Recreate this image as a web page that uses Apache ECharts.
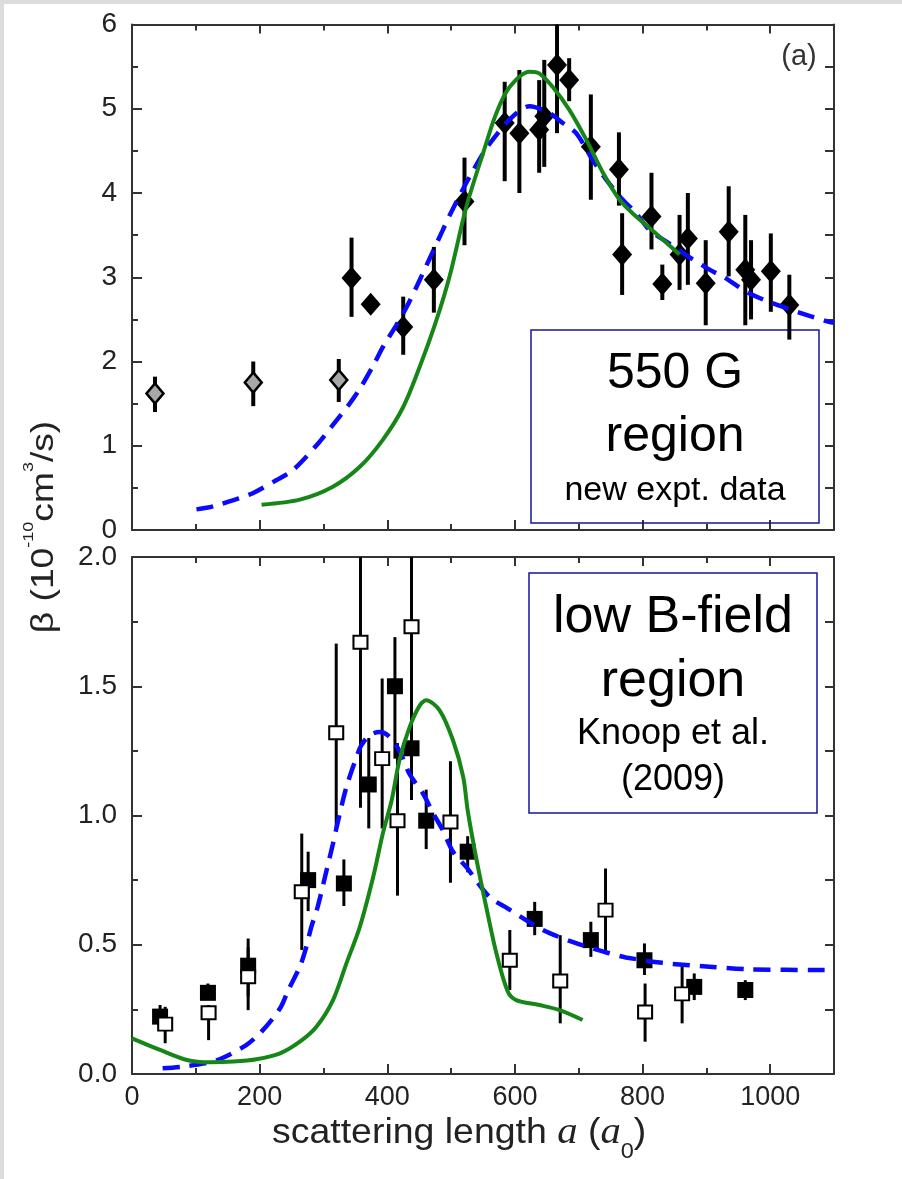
<!DOCTYPE html>
<html>
<head>
  <meta charset="utf-8" />
  <title>beta vs scattering length</title>
  <style>
    html, body { margin: 0; padding: 0; background: #fff; }
    #chart { width: 902px; height: 1179px; }
  </style>
  <script src="https://cdn.jsdelivr.net/npm/echarts@6/dist/echarts.min.js"></script>
</head>
<body>
<div id="chart"></div>
<script>
  // axis ranges and tick steps
  const xRange = [0, 1100];
  const topYRange = [0, 6];
  const lowYRange = [0, 2];

  // 550 G region, [a, beta, errLow, errHigh]
  const topGray = [
    [36, 1.62, 1.40, 1.82],
    [190, 1.75, 1.47, 2.00],
    [324, 1.78, 1.52, 2.03]
  ];
  const topBlack = [
    [344, 2.99, 2.53, 3.47], [374, 2.68, 2.62, 2.74], [425, 2.41, 2.08, 2.77],
    [473, 2.97, 2.58, 3.36], [521, 3.90, 3.38, 4.42], [584, 4.83, 4.14, 5.32],
    [607, 4.71, 4.00, 5.46], [638, 4.75, 4.24, 5.34], [646, 4.91, 4.31, 5.58],
    [666, 5.52, 4.71, 6.00], [685, 5.34, 5.09, 5.60], [719, 4.55, 3.92, 5.17],
    [763, 4.28, 3.85, 4.72], [768, 3.27, 2.79, 3.76], [814, 3.72, 3.33, 4.24],
    [831, 2.92, 2.73, 3.15], [858, 3.27, 2.85, 3.74], [871, 3.46, 2.91, 4.00],
    [899, 2.93, 2.43, 3.44], [935, 3.54, 3.01, 4.08], [961, 3.09, 2.43, 3.74],
    [970, 2.97, 2.50, 3.44], [1001, 3.07, 2.59, 3.52], [1030, 2.67, 2.26, 3.03]
  ];
  const topDashed = [
    [101, 0.245], [127, 0.28], [169, 0.38], [190, 0.44], [226, 0.59], [252, 0.71],
    [292, 1.03], [313, 1.23], [341, 1.50], [359, 1.70], [380, 1.98], [393, 2.17],
    [414, 2.43], [432, 2.67], [451, 2.97], [487, 3.56], [498, 3.74], [521, 4.08],
    [550, 4.47], [565, 4.63], [594, 4.89], [623, 5.03], [654, 4.95], [675, 4.83],
    [696, 4.71], [722, 4.39], [743, 4.16], [769, 3.92], [790, 3.76], [811, 3.56],
    [842, 3.40], [863, 3.29], [905, 3.09], [930, 2.99], [967, 2.81], [1019, 2.65],
    [1092, 2.47], [1100, 2.46]
  ];
  const topSolid = [
    [203, 0.30], [263, 0.36], [314, 0.51], [357, 0.75], [393, 1.07], [425, 1.46],
    [451, 1.94], [477, 2.49], [498, 3.02], [524, 3.84], [550, 4.47], [571, 4.95],
    [592, 5.26], [623, 5.44], [638, 5.42], [659, 5.26], [685, 4.99], [712, 4.63],
    [738, 4.24], [764, 3.92], [790, 3.72], [821, 3.52], [858, 3.27]
  ];

  // low B-field region (Knoop et al. 2009), [a, beta, errLow, errHigh]
  const lowOpen = [
    [52, 0.193, 0.119, 0.26], [120, 0.237, 0.131, 0.267], [182, 0.376, 0.247, 0.49],
    [266, 0.705, 0.48, 0.93], [320, 1.32, 0.95, 1.665], [358, 1.67, 1.03, 2.3],
    [392, 1.22, 0.95, 1.53], [416, 0.98, 0.69, 1.28], [438, 1.73, 1.06, 2.3],
    [499, 0.975, 0.74, 1.21], [592, 0.44, 0.325, 0.557], [671, 0.36, 0.196, 0.537],
    [742, 0.634, 0.467, 0.795], [804, 0.24, 0.125, 0.35], [862, 0.31, 0.196, 0.428]
  ];
  const lowFilled = [
    [44, 0.222, 0.183, 0.267], [119, 0.314, 0.286, 0.35], [182, 0.419, 0.30, 0.524],
    [276, 0.75, 0.63, 0.86], [332, 0.737, 0.65, 0.83], [371, 1.12, 0.95, 1.30],
    [412, 1.50, 1.22, 1.69], [438, 1.26, 1.07, 1.40], [461, 0.98, 0.87, 1.10],
    [526, 0.86, 0.78, 0.92], [631, 0.60, 0.537, 0.666], [719, 0.518, 0.453, 0.589],
    [803, 0.44, 0.383, 0.505], [881, 0.337, 0.286, 0.389], [961, 0.325, 0.286, 0.363]
  ];
  const lowDashed = [
    [48, 0.022], [78, 0.028], [114, 0.041], [140, 0.06], [179, 0.112], [203, 0.164],
    [232, 0.254], [245, 0.325], [263, 0.415], [271, 0.473], [281, 0.569], [291, 0.647],
    [305, 0.789], [315, 0.892], [323, 0.98], [336, 1.11], [352, 1.227], [359, 1.27],
    [372, 1.31], [388, 1.323], [401, 1.31], [419, 1.25], [435, 1.16], [456, 1.085],
    [472, 1.008], [487, 0.943], [503, 0.86], [524, 0.80], [560, 0.685], [589, 0.64],
    [644, 0.557], [690, 0.511], [722, 0.486], [748, 0.467], [774, 0.451], [831, 0.43],
    [905, 0.415], [967, 0.405], [1100, 0.402]
  ];
  const lowSolid = [
    [0, 0.138], [44, 0.093], [86, 0.054], [122, 0.045], [159, 0.048], [195, 0.057],
    [232, 0.08], [263, 0.125], [289, 0.183], [315, 0.286], [336, 0.428], [357, 0.569],
    [378, 0.763], [393, 0.93], [407, 1.06], [419, 1.214], [435, 1.342], [451, 1.426],
    [461, 1.446], [482, 1.407], [503, 1.291], [519, 1.149], [526, 1.02], [539, 0.84],
    [555, 0.647], [571, 0.467], [589, 0.318], [602, 0.286], [638, 0.267], [670, 0.247],
    [706, 0.209]
  ];

  const axisColor = '#333';
  const blue = '#0a0aff';
  const green = '#168616';
  const sans = '"Liberation Sans", Arial, sans-serif';

  function tick(len) {
    return { show: true, inside: true, length: len, lineStyle: { color: axisColor, width: 2 } };
  }

  // each grid gets 4 x axes: bottom long/short ticks, top long/short ticks
  function xAxesFor(grid, labels) {
    const base = {
      gridIndex: grid, type: 'value', min: xRange[0], max: xRange[1],
      splitLine: { show: false }, axisLabel: { show: false },
      axisLine: { show: true, onZero: false, lineStyle: { color: axisColor, width: 2 } }
    };
    const bottom = Object.assign({}, base, { position: 'bottom', interval: 200, axisTick: tick(10) });
    if (labels) {
      bottom.axisLabel = {
        show: true, margin: 10, color: '#222', fontSize: 27, fontFamily: sans,
        formatter: v => (v % 200 === 0 ? String(v) : '')
      };
    }
    return [
      bottom,
      Object.assign({}, base, { position: 'bottom', interval: 100, axisLine: { show: false, onZero: false }, axisTick: tick(6) }),
      Object.assign({}, base, { position: 'top', interval: 200, axisTick: tick(9) }),
      Object.assign({}, base, { position: 'top', interval: 100, axisLine: { show: false, onZero: false }, axisTick: tick(6) })
    ];
  }

  function yAxesFor(grid, range, step, rightStep, fmt) {
    const line = { show: true, onZero: false, lineStyle: { color: axisColor, width: 2 } };
    return [
      {
        gridIndex: grid, type: 'value', position: 'left', min: range[0], max: range[1], interval: step,
        splitLine: { show: false }, axisLine: line, axisTick: tick(10),
        minorTick: { show: true, splitNumber: 2, length: 6, lineStyle: { color: axisColor, width: 2 } },
        axisLabel: { margin: 15, color: '#222', fontSize: 28, fontFamily: sans, formatter: fmt }
      },
      {
        gridIndex: grid, type: 'value', position: 'right', min: range[0], max: range[1], interval: rightStep,
        splitLine: { show: false }, axisLine: line, axisTick: tick(9), axisLabel: { show: false }
      }
    ];
  }

  function errorBars(points, xi, yi, width) {
    return {
      type: 'custom', xAxisIndex: xi, yAxisIndex: yi, z: 3, silent: true,
      data: points.map(p => [p[0], p[2], p[3]]),
      encode: { x: 0, y: [1, 2] },
      renderItem: (params, api) => {
        const cs = params.coordSys;
        const clampY = y => Math.max(cs.y, Math.min(cs.y + cs.height, y));
        const a = api.coord([api.value(0), api.value(1)]);
        const b = api.coord([api.value(0), api.value(2)]);
        return {
          type: 'line',
          shape: { x1: a[0], y1: clampY(a[1]), x2: b[0], y2: clampY(b[1]) },
          style: { stroke: '#000', lineWidth: width }
        };
      }
    };
  }

  function markers(points, xi, yi, symbol, size, itemStyle, z) {
    return {
      type: 'scatter', xAxisIndex: xi, yAxisIndex: yi, z: z, silent: true,
      symbol: symbol, symbolSize: size, itemStyle: Object.assign({ opacity: 1 }, itemStyle),
      data: points.map(p => [p[0], p[1]])
    };
  }

  function curve(points, xi, yi, color, dashed) {
    return {
      type: 'line', xAxisIndex: xi, yAxisIndex: yi, z: 6, silent: true,
      data: points, symbol: 'none', smooth: 0.3,
      lineStyle: { color: color, width: dashed ? 4.5 : 4, type: dashed ? [17, 10] : 'solid' }
    };
  }

  function boxText(text, x, y, size) {
    return {
      type: 'text', x: x, y: y, z: 10,
      style: {
        text: text, fill: '#000', font: size + 'px ' + sans,
        align: 'center', verticalAlign: 'middle', textAlign: 'center', textVerticalAlign: 'middle'
      }
    };
  }

  const chart = echarts.init(document.getElementById('chart'));

  const option = {
    animation: false,
    backgroundColor: '#fff',
    grid: [
      { left: 132, top: 24.5, width: 702, height: 505.5, outerBoundsMode: 'none' },
      { left: 132, top: 557, width: 702, height: 517, outerBoundsMode: 'none' }
    ],
    xAxis: xAxesFor(0, false).concat(xAxesFor(1, true)),
    yAxis: yAxesFor(0, topYRange, 1, 0.5, v => String(v))
      .concat(yAxesFor(1, lowYRange, 0.5, 0.25, v => v.toFixed(1))),
    series: [
      errorBars(topGray, 0, 0, 4),
      errorBars(topBlack, 0, 0, 4),
      markers(topGray, 0, 0, 'diamond', [17, 20], { color: '#a8a8a8', borderColor: '#000', borderWidth: 2.5 }, 4),
      markers(topBlack, 0, 0, 'diamond', [20, 23], { color: '#000' }, 4),
      curve(topDashed, 0, 0, blue, true),
      curve(topSolid, 0, 0, green, false),

      errorBars(lowFilled, 4, 2, 3),
      errorBars(lowOpen, 4, 2, 3),
      markers(lowFilled, 4, 2, 'rect', [16, 16], { color: '#000' }, 4),
      markers(lowOpen, 4, 2, 'rect', [14, 13], { color: '#fff', borderColor: '#000', borderWidth: 2 }, 5),
      curve(lowDashed, 4, 2, blue, true),
      curve(lowSolid, 4, 2, green, false)
    ],
    graphic: [
      { type: 'rect', z: 20, shape: { x: 0, y: 0, width: 902, height: 4 }, style: { fill: '#dcdcdc' } },
      { type: 'rect', z: 20, shape: { x: 0, y: 0, width: 4, height: 1179 }, style: { fill: '#dcdcdc' } },

      { type: 'rect', z: 1, shape: { x: 531, y: 330, width: 288, height: 193 }, style: { fill: 'none', stroke: '#14149a', lineWidth: 1.5 } },
      boxText('550 G', 675, 374, 50),
      boxText('region', 675, 437, 50),
      boxText('new expt. data', 675, 491, 34),

      { type: 'rect', z: 1, shape: { x: 529, y: 573, width: 288, height: 240 }, style: { fill: 'none', stroke: '#14149a', lineWidth: 1.5 } },
      boxText('low B-field', 673, 618, 52),
      boxText('region', 673, 682, 52),
      boxText('Knoop et al.', 673, 734, 36),
      boxText('(2009)', 673, 780, 36),

      {
        type: 'text', x: 799, y: 57, z: 10,
        style: { text: '(a)', fill: '#333', font: '29px ' + sans, align: 'center', verticalAlign: 'middle', textAlign: 'center', textVerticalAlign: 'middle' }
      },
      {
        type: 'text', x: 44, y: 527, z: 10, rotation: Math.PI / 2, scaleX: 1.2,
        style: {
          text: '{m|β (10}{s|-10}{m|cm}{s|3}{m|/s)}',
          align: 'center', verticalAlign: 'middle', textAlign: 'center', textVerticalAlign: 'middle',
          fill: '#222',
          rich: {
            m: { fontSize: 31, fontFamily: sans, lineHeight: 46, fill: '#222', color: '#222' },
            s: { fontSize: 15, fontFamily: sans, lineHeight: 18, verticalAlign: 'top', fill: '#222', color: '#222' }
          }
        }
      },
      {
        type: 'text', x: 272, y: 1133, z: 10, scaleX: 1.07,
        style: {
          text: '{m|scattering length }{i|a}{m| (}{i|a}{s|0}{m|)}',
          align: 'left', verticalAlign: 'middle', textAlign: 'left', textVerticalAlign: 'middle',
          fill: '#222',
          rich: {
            m: { fontSize: 35, fontFamily: sans, lineHeight: 60, fill: '#222', color: '#222' },
            i: { fontSize: 38, fontFamily: '"Liberation Serif", "Times New Roman", serif', fontStyle: 'italic', lineHeight: 60, fill: '#222', color: '#222' },
            s: { fontSize: 22, fontFamily: sans, lineHeight: 22, verticalAlign: 'bottom', fill: '#222', color: '#222' }
          }
        }
      }
    ]
  };

  chart.setOption(option);
</script>
</body>
</html>
